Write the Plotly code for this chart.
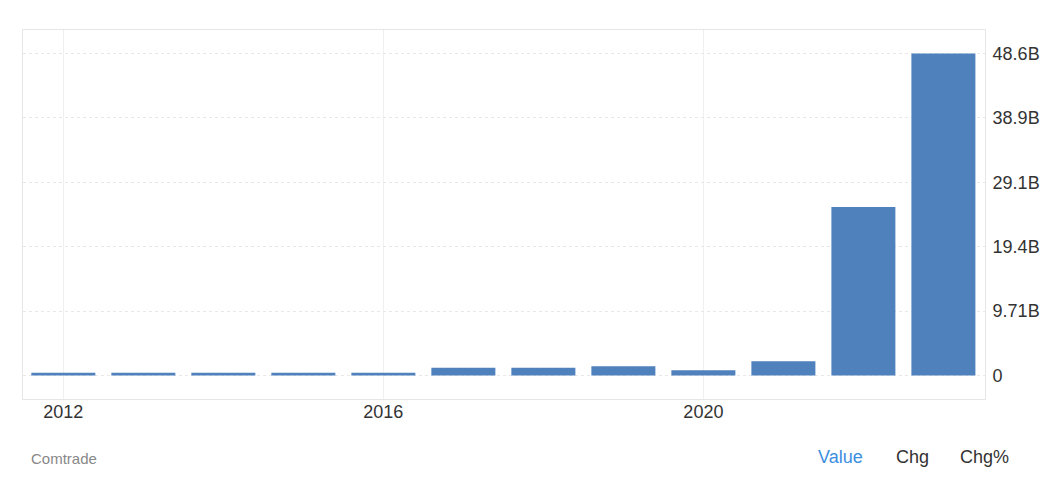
import plotly.graph_objects as go

years = [2012, 2013, 2014, 2015, 2016, 2017, 2018, 2019, 2020, 2021, 2022, 2023]
values_b = [0.41, 0.41, 0.41, 0.41, 0.41, 1.16, 1.16, 1.40, 0.80, 2.16, 25.4, 48.57]
ytick_labels = ["0", "9.71B", "19.4B", "29.1B", "38.9B", "48.6B"]
xtick_years = [2012, 2016, 2020]

values = [v * 1e9 for v in values_b]
step = max(values) / 5
ytick_vals = [i * step for i in range(6)]

font_family = "Liberation Sans, Arial, sans-serif"

W, H = 1046, 485
ML, MR, MT, MB = 23, 61, 30, 86

fig = go.Figure()
fig.add_trace(go.Bar(
    x=years, y=values,
    marker=dict(color="#4f81bd", line=dict(width=0)),
    width=0.8,
    hoverinfo="skip",
))

fig.update_layout(
    width=W, height=H,
    margin=dict(l=ML, r=MR, t=MT, b=MB, autoexpand=False),
    paper_bgcolor="white", plot_bgcolor="white",
    showlegend=False,
    font=dict(family=font_family, size=18, color="#333333"),
    xaxis=dict(
        range=[2011.496, 2023.52],
        tickvals=xtick_years,
        ticktext=[str(y) for y in xtick_years],
        showgrid=True, gridcolor="#f0f0f0", gridwidth=1,
        showline=True, linecolor="#e6e6e6", linewidth=1, mirror=True,
        ticks="", ticklabelstandoff=-4,
        tickfont=dict(size=18, color="#333333"),
        zeroline=False, automargin=False,
    ),
    yaxis=dict(
        side="right",
        range=[-3.55e9, 52.1e9],
        tickvals=ytick_vals,
        ticktext=ytick_labels,
        showgrid=True, gridcolor="#e8e8e8", gridwidth=1, griddash="dot",
        showline=True, linecolor="#e6e6e6", linewidth=1, mirror=True,
        ticks="", ticklabelstandoff=3,
        tickfont=dict(size=18, color="#333333"),
        zeroline=False, automargin=False,
    ),
)

def px(xp):
    return (xp - ML) / (W - ML - MR)
def py(yp):
    return (H - MB - yp) / (H - MT - MB)

fig.add_annotation(x=px(29), y=py(458), xref="paper", yref="paper", text="Comtrade",
                   showarrow=False, xanchor="left", yanchor="middle",
                   font=dict(family=font_family, size=15, color="#888888"))
fig.add_annotation(x=px(816), y=py(457), xref="paper", yref="paper", text="Value",
                   showarrow=False, xanchor="left", yanchor="middle",
                   font=dict(family=font_family, size=18, color="#3c8ee0"))
fig.add_annotation(x=px(894), y=py(457), xref="paper", yref="paper", text="Chg",
                   showarrow=False, xanchor="left", yanchor="middle",
                   font=dict(family=font_family, size=18, color="#333333"))
fig.add_annotation(x=px(958), y=py(457), xref="paper", yref="paper", text="Chg%",
                   showarrow=False, xanchor="left", yanchor="middle",
                   font=dict(family=font_family, size=18, color="#333333"))

fig.write_html("out.html", config={"displayModeBar": False},
               post_script="document.body.style.margin='0';")
